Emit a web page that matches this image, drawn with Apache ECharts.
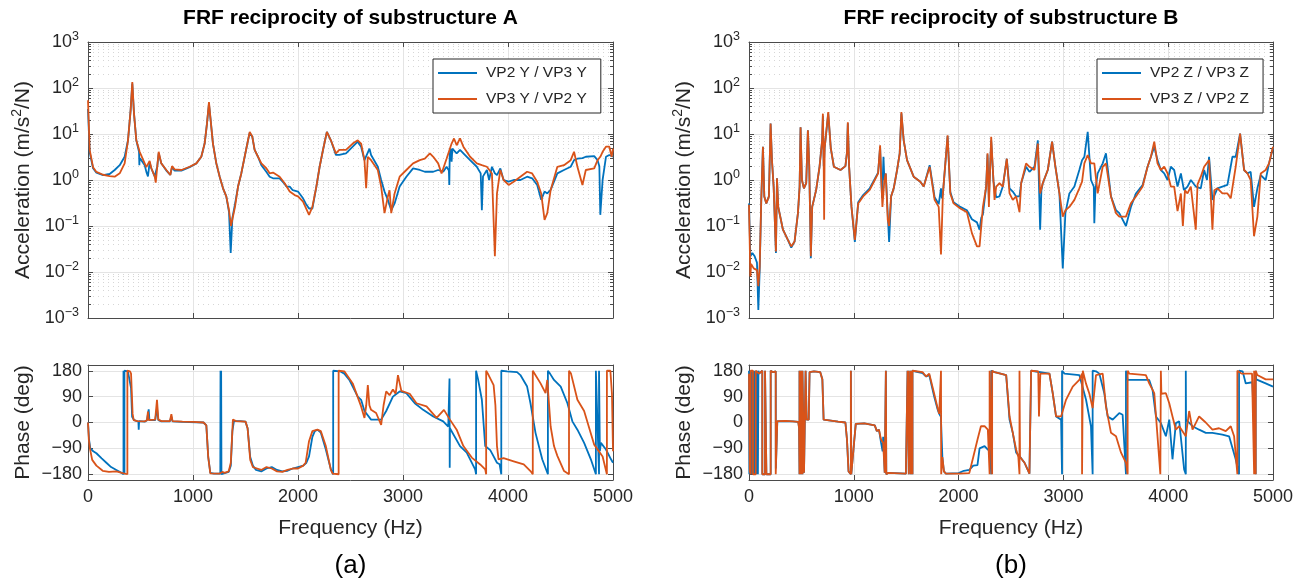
<!DOCTYPE html>
<html><head><meta charset="utf-8">
<script src="https://cdn.jsdelivr.net/npm/echarts/dist/echarts.min.js"></script>
<style>html,body{margin:0;padding:0;background:#fff}#c{width:1309px;height:588px}</style>
</head><body><div id="c"></div><script>
// ---------------- data ----------------
const freqTicks = [0, 1000, 2000, 3000, 4000, 5000];
const magMajorTicks = [1e-3, 1e-2, 1e-1, 1, 10, 100, 1000];
const magMinorTicks = [];
for (let k = -3; k <= 2; k++) for (let m = 2; m <= 9; m++) magMinorTicks.push(+(m * Math.pow(10, k)).toPrecision(3));
const phaseTicks = [-180, -90, 0, 90, 180];

const namesA = ['VP2 Y / VP3 Y', 'VP3 Y / VP2 Y'];
const namesB = ['VP2 Z / VP3 Z', 'VP3 Z / VP2 Z'];

// Substructure A magnitude [Hz, m/s^2/N]
const magA_VP2Y_VP3Y = [[0,35],[16,4.0],[48,1.8],[80,1.44],[143,1.28],[206,1.35],[254,1.65],[302,2.1],[349,3.2],[381,7.3],[406,33],[422,125],[438,28],[460,7.3],[486,4.1],[489,2.1],[492,3.0],[508,2.7],[540,2.1],[556,1.5],[571,1.2],[587,2.4],[603,1.8],[635,1.2],[650,1.1],[660,2.0],[673,3.8],[698,2.3],[746,1.6],[784,1.3],[800,1.9],[825,1.6],[889,1.6],[968,1.9],[1032,2.3],[1079,3.2],[1111,6.2],[1133,16.8],[1152,45],[1168,20],[1190,6.2],[1222,2.3],[1254,1.18],[1286,0.66],[1317,0.44],[1343,0.2],[1359,0.026],[1375,0.15],[1400,0.3],[1429,0.72],[1460,1.39],[1492,3.2],[1524,7.3],[1540,10.5],[1565,8.7],[1587,4.5],[1619,3.2],[1651,2.1],[1698,1.51],[1730,1.18],[1762,1.09],[1825,1.09],[1873,0.82],[1890,0.72],[1921,0.72],[1950,0.6],[1968,0.66],[2000,0.56],[2048,0.4],[2073,0.31],[2105,0.24],[2137,0.24],[2175,0.72],[2206,1.94],[2238,4.5],[2275,11.1],[2313,7.3],[2361,3.5],[2393,3.5],[2457,3.8],[2521,5.3],[2569,6.8],[2585,7.3],[2601,5.3],[2633,2.7],[2681,4.8],[2696,3.5],[2760,1.94],[2792,1.0],[2824,0.56],[2856,0.37],[2888,0.22],[2920,0.31],[2968,0.72],[3032,1.18],[3096,1.79],[3160,1.65],[3208,1.51],[3256,1.51],[3288,1.51],[3335,1.65],[3383,1.51],[3415,1.94],[3437,1.6],[3441,0.78],[3445,3.5],[3452,4.8],[3463,2.5],[3470,4.8],[3511,3.8],[3543,4.5],[3575,3.8],[3639,2.7],[3703,1.94],[3740,1.39],[3751,0.22],[3762,1.2],[3799,1.65],[3820,1.0],[3847,1.94],[3875,1.4],[3895,1.28],[3927,1.79],[3958,1.0],[4006,0.92],[4054,1.0],[4118,1.0],[4182,1.18],[4230,1.09],[4278,0.78],[4316,0.37],[4348,0.56],[4374,0.51],[4406,0.61],[4470,1.39],[4533,1.65],[4597,1.94],[4629,2.7],[4661,2.9],[4709,3.0],[4741,3.2],[4821,3.3],[4853,2.7],[4870,2.0],[4879,0.175],[4901,1.0],[4933,3.2],[4965,3.5],[5000,3.2]];
const magA_VP3Y_VP2Y = [[0,54],[16,4.5],[48,1.9],[80,1.5],[143,1.3],[206,1.22],[254,1.18],[302,1.4],[349,2.3],[381,7.3],[406,33],[422,134],[438,28],[460,7.3],[492,4.1],[508,3.8],[540,2.3],[556,1.9],[571,1.8],[587,2.6],[603,1.8],[635,1.2],[645,0.88],[660,2.0],[673,4.1],[698,2.3],[746,1.65],[784,1.28],[800,2.0],[825,1.7],[889,1.65],[968,1.94],[1032,2.3],[1079,3.2],[1111,6.2],[1133,16.8],[1152,49.6],[1168,20],[1190,6.2],[1222,2.3],[1254,1.18],[1286,0.66],[1317,0.44],[1343,0.22],[1362,0.1],[1381,0.1],[1400,0.26],[1429,0.72],[1460,1.39],[1492,3.2],[1524,7.3],[1540,11.1],[1565,8.7],[1587,4.5],[1619,3.2],[1651,2.3],[1698,1.8],[1730,1.4],[1762,1.45],[1825,1.18],[1873,0.85],[1921,0.56],[1968,0.47],[2000,0.44],[2048,0.34],[2105,0.175],[2137,0.26],[2175,0.72],[2206,1.94],[2238,4.5],[2275,11.1],[2313,7.3],[2361,3.8],[2393,4.5],[2457,4.5],[2521,6.2],[2569,7.3],[2585,8.0],[2601,6.2],[2633,2.7],[2649,0.66],[2665,3.2],[2696,2.7],[2760,1.65],[2792,0.72],[2824,0.19],[2856,0.44],[2872,0.6],[2888,0.19],[2920,0.51],[2968,1.18],[3032,1.65],[3096,2.3],[3160,2.7],[3208,2.9],[3256,3.8],[3288,3.2],[3335,2.3],[3367,1.39],[3383,1.5],[3415,2.9],[3463,6.2],[3486,8.0],[3511,5.7],[3543,8.0],[3575,5.3],[3639,3.2],[3703,2.3],[3751,2.1],[3799,1.94],[3847,1.39],[3875,0.022],[3895,0.51],[3927,1.65],[3958,1.0],[4006,0.78],[4054,0.92],[4118,1.18],[4182,1.51],[4230,1.39],[4278,0.92],[4316,0.51],[4348,0.136],[4374,0.19],[4406,0.6],[4470,1.94],[4533,2.1],[4597,2.7],[4629,4.1],[4661,1.94],[4709,0.78],[4741,1.65],[4821,1.79],[4853,2.7],[4879,3.2],[4901,4.1],[4933,5.3],[4965,5.3],[4987,3.2],[5000,4.8]];

// Substructure A phase [Hz, deg]
const phA_VP2Y_VP3Y = [[0,0],[10,-60],[22,-90],[50,-100],[80,-107],[130,-125],[175,-140],[220,-155],[270,-165],[310,-173],[338,-180],[338,180],[341,-180],[341,180],[344,-180],[344,180],[347,-180],[347,180],[380,178],[395,175],[410,120],[420,20],[440,8],[480,3],[483,-25],[487,5],[540,3],[562,8],[578,46],[585,8],[640,8],[657,50],[670,8],[700,4],[780,4],[794,20],[805,4],[900,2],[1100,0],[1127,-10],[1145,-120],[1165,-175],[1200,-178],[1260,-178],[1262,-180],[1262,180],[1265,-180],[1265,180],[1268,-180],[1268,180],[1271,-180],[1275,-176],[1340,-172],[1360,-150],[1375,-30],[1390,5],[1450,5],[1500,3],[1520,-20],[1545,-120],[1570,-150],[1600,-165],[1650,-170],[1700,-160],[1750,-155],[1800,-165],[1850,-170],[1900,-168],[1950,-160],[2000,-155],[2050,-150],[2080,-140],[2105,-118],[2137,-50],[2160,-30],[2185,-25],[2217,-35],[2265,-94],[2313,-163],[2335,-180],[2335,180],[2400,178],[2441,170],[2489,148],[2569,90],[2601,79],[2633,40],[2696,10],[2792,10],[2840,40],[2904,90],[2968,108],[3032,102],[3112,67],[3192,44],[3288,21],[3383,4],[3431,-14],[3441,-15],[3443,153],[3445,-157],[3447,-20],[3463,-25],[3543,-82],[3607,-105],[3687,-163],[3696,-180],[3696,180],[3715,150],[3751,79],[3783,-82],[3831,-96],[3863,-118],[3895,-140],[3920,-145],[3936,-180],[3936,180],[3990,178],[4086,175],[4118,165],[4182,125],[4214,67],[4262,-36],[4326,-128],[4380,-180],[4380,180],[4400,170],[4438,148],[4502,125],[4566,67],[4613,4],[4661,-25],[4725,-71],[4789,-128],[4837,-180],[4837,180],[4850,180],[4867,-180],[4867,180],[4875,-100],[4885,-71],[4933,-94],[4981,-128],[5000,-140]];
const phA_VP3Y_VP2Y = [[0,0],[8,-60],[18,-90],[40,-130],[80,-150],[140,-168],[200,-172],[270,-170],[330,-176],[375,-180],[375,180],[400,178],[410,170],[425,30],[435,8],[470,5],[540,4],[562,8],[571,38],[578,8],[640,10],[657,79],[670,10],[700,5],[780,5],[794,29],[805,5],[900,3],[1000,2],[1100,0],[1127,-10],[1145,-120],[1165,-177],[1250,-178],[1280,-172],[1300,-175],[1340,-170],[1360,-140],[1380,10],[1395,15],[1410,5],[1500,3],[1520,-20],[1545,-130],[1570,-155],[1610,-160],[1650,-165],[1700,-155],[1750,-160],[1800,-170],[1850,-172],[1900,-165],[1950,-160],[2000,-160],[2050,-150],[2073,-140],[2105,-65],[2137,-30],[2185,-25],[2217,-30],[2265,-82],[2313,-165],[2330,-178],[2387,-180],[2387,180],[2441,178],[2521,136],[2601,56],[2633,16],[2650,60],[2665,130],[2680,60],[2696,44],[2744,33],[2792,-8],[2815,60],[2840,108],[2872,95],[2904,115],[2930,100],[2952,165],[2984,110],[3064,100],[3128,67],[3224,56],[3320,16],[3390,44],[3447,10],[3511,-25],[3575,-82],[3655,-122],[3735,-146],[3783,-163],[3792,-180],[3792,180],[3815,165],[3863,130],[3880,60],[3895,-82],[3910,-128],[3958,-124],[4054,-135],[4150,-146],[4214,-169],[4236,-180],[4236,180],[4250,175],[4310,136],[4358,102],[4374,148],[4406,-14],[4438,-82],[4470,-116],[4534,-169],[4581,-180],[4581,180],[4600,170],[4661,79],[4725,40],[4821,-77],[4901,-118],[4942,-180],[4942,180],[4975,180],[4990,100],[5000,-100]];

// Substructure B magnitude
const magB_VP2Z_VP3Z = [[0,0.31],[13,0.022],[32,0.026],[54,0.022],[76,0.016],[89,0.0015],[102,0.011],[117,0.37],[133,5.3],[146,0.44],[165,0.31],[190,0.44],[206,16.8],[219,2.7],[235,0.72],[257,0.026],[267,1.09],[279,0.26],[324,0.083],[371,0.05],[403,0.034],[435,0.046],[467,0.19],[483,0.72],[492,14],[505,1.0],[524,0.66],[546,0.85],[562,12],[575,1.94],[590,0.02],[603,0.26],[641,0.61],[673,1.94],[698,7.3],[705,25],[713,2.0],[722,5],[756,28],[780,5],[810,1.94],[873,1.65],[920,2.0],[935,4.0],[943,17],[955,2.0],[978,0.26],[1010,0.045],[1042,0.33],[1089,0.47],[1152,0.66],[1200,1.05],[1232,1.45],[1251,5.2],[1260,1.39],[1270,0.4],[1283,3.2],[1292,1.0],[1305,1.39],[1337,0.045],[1356,0.44],[1381,0.66],[1413,1.65],[1438,3.8],[1454,28],[1476,7.3],[1508,2.7],[1571,1.18],[1635,0.92],[1667,0.72],[1724,2.1],[1771,0.42],[1810,0.3],[1832,0.66],[1840,0.4],[1850,0.5],[1895,9.0],[1921,0.55],[1952,0.33],[2016,0.26],[2079,0.22],[2127,0.14],[2175,0.12],[2200,0.083],[2216,0.15],[2232,0.18],[2263,0.72],[2276,3.6],[2289,0.4],[2311,7.3],[2333,0.92],[2359,0.42],[2390,0.44],[2422,0.72],[2460,2.9],[2486,0.66],[2517,0.56],[2549,0.44],[2581,0.44],[2597,0.85],[2644,1.94],[2676,1.51],[2724,1.94],[2756,7.3],[2778,0.083],[2790,0.6],[2803,0.85],[2851,1.65],[2892,6.8],[2924,1.94],[2962,0.51],[2994,0.012],[3019,0.19],[3057,0.51],[3105,0.72],[3152,1.65],[3178,2.7],[3200,3.2],[3232,11.1],[3263,1.0],[3290,0.72],[3295,0.115],[3305,0.6],[3327,1.39],[3375,2.3],[3406,3.8],[3454,0.44],[3502,0.22],[3533,0.19],[3597,0.1],[3644,0.26],[3692,0.51],[3756,0.78],[3803,1.94],[3835,3.2],[3867,5.3],[3898,2.7],[3930,1.65],[3962,1.39],[3994,1.0],[4025,1.94],[4057,1.65],[4089,0.72],[4121,1.39],[4150,0.6],[4184,0.72],[4216,1.0],[4263,0.72],[4311,0.66],[4343,1.65],[4370,1.0],[4390,3.2],[4422,0.37],[4470,0.66],[4517,0.72],[4565,0.78],[4613,3.2],[4644,3.2],[4686,10.2],[4724,1.65],[4756,1.39],[4787,1.51],[4819,0.26],[4851,0.66],[4883,1.28],[4930,1.0],[4962,2.3],[5000,5.0]];
const magB_VP3Z_VP2Z = [[0,0.29],[13,0.008],[20,0.015],[32,0.016],[45,0.012],[54,0.013],[76,0.011],[89,0.0049],[102,0.013],[117,0.37],[133,5.3],[146,0.44],[165,0.31],[190,0.44],[206,16.8],[219,2.7],[235,0.72],[257,0.028],[267,1.09],[279,0.26],[324,0.083],[371,0.05],[403,0.036],[435,0.046],[467,0.19],[483,0.72],[492,14],[505,1.0],[524,0.66],[546,0.85],[562,12],[575,1.94],[590,0.022],[603,0.26],[641,0.61],[673,1.94],[698,7.3],[705,27.7],[713,2.0],[717,0.136],[722,5],[756,30],[780,5],[810,1.94],[873,1.65],[920,2.0],[935,4.0],[943,18],[955,2.0],[978,0.26],[1010,0.05],[1042,0.31],[1089,0.44],[1152,0.61],[1200,1.0],[1232,1.39],[1251,5.7],[1260,1.39],[1273,0.26],[1292,1.0],[1305,1.39],[1324,0.136],[1337,0.1],[1356,0.44],[1381,0.66],[1413,1.65],[1438,3.8],[1454,30],[1476,7.3],[1508,2.7],[1571,1.18],[1635,0.92],[1667,0.72],[1724,1.94],[1771,0.37],[1810,0.26],[1832,0.024],[1850,0.5],[1895,9.4],[1921,0.51],[1952,0.31],[2016,0.24],[2079,0.2],[2127,0.07],[2175,0.036],[2200,0.036],[2232,0.26],[2263,0.72],[2276,3.8],[2289,0.26],[2311,8.7],[2333,0.92],[2343,0.37],[2359,0.72],[2390,0.85],[2422,0.72],[2460,2.9],[2486,0.51],[2517,0.37],[2549,0.44],[2581,0.2],[2597,0.85],[2644,2.3],[2676,1.94],[2724,1.65],[2756,6.2],[2778,0.51],[2803,0.85],[2851,1.65],[2892,6.8],[2924,1.94],[2962,0.51],[2994,0.16],[3019,0.22],[3057,0.26],[3105,0.37],[3152,0.66],[3178,0.92],[3200,2.3],[3232,3.5],[3263,2.3],[3295,2.3],[3327,0.51],[3375,1.94],[3406,2.3],[3454,0.44],[3502,0.19],[3533,0.16],[3597,0.16],[3644,0.31],[3692,0.44],[3756,0.72],[3803,1.94],[3835,3.2],[3867,6.8],[3898,2.3],[3930,1.65],[3962,1.94],[3994,1.39],[4025,0.72],[4057,0.72],[4089,0.21],[4121,0.51],[4140,0.1],[4160,0.6],[4184,0.51],[4216,0.72],[4263,0.083],[4280,0.8],[4311,1.18],[4343,1.94],[4390,2.7],[4422,0.083],[4440,0.6],[4470,0.66],[4517,0.51],[4565,0.51],[4597,0.4],[4613,0.37],[4644,1.94],[4686,10.2],[4724,1.65],[4756,1.39],[4787,1.0],[4819,0.06],[4851,0.16],[4883,1.39],[4930,1.65],[4962,2.3],[5000,5.3]];

// Substructure B phase
const phB_VP2Z_VP3Z = [[0,180],[3,-180],[6,180],[10,-180],[14,180],[18,-180],[22,180],[26,-180],[30,180],[34,-180],[38,180],[42,-180],[46,180],[50,-180],[54,180],[58,-180],[62,180],[66,-180],[70,180],[75,-180],[80,180],[85,-180],[90,180],[96,170],[110,175],[127,180],[127,-180],[140,-175],[153,-180],[153,180],[160,175],[166,180],[166,-180],[185,-175],[207,-180],[207,180],[230,175],[255,178],[256,-160],[262,-90],[270,4],[350,5],[420,4],[470,2],[478,-20],[482,-180],[482,180],[490,-180],[490,180],[500,-180],[500,180],[510,-180],[510,180],[525,-175],[540,-180],[540,180],[550,10],[570,10],[578,175],[620,178],[680,175],[700,150],[712,10],[730,5],[850,3],[920,0],[935,-60],[950,-170],[972,-180],[972,180],[976,-180],[990,-175],[1005,-60],[1019,-5],[1100,-3],[1200,-10],[1220,-30],[1240,-25],[1260,-70],[1275,-100],[1280,-50],[1295,-175],[1306,-180],[1306,180],[1310,-180],[1330,-175],[1497,-178],[1513,-180],[1513,180],[1525,-180],[1525,180],[1545,-180],[1545,180],[1560,-180],[1560,180],[1576,178],[1656,172],[1690,160],[1720,165],[1767,90],[1800,45],[1815,30],[1831,20],[1845,-120],[1860,-170],[1879,-178],[2000,-176],[2050,-168],[2102,-165],[2140,-150],[2180,-148],[2200,-90],[2248,-82],[2279,-94],[2300,-100],[2311,-180],[2311,180],[2343,175],[2400,170],[2454,165],[2486,10],[2517,-36],[2549,-105],[2581,-117],[2629,-140],[2676,-178],[2692,-180],[2692,180],[2708,175],[2867,170],[2898,102],[2930,21],[2978,10],[2987,-180],[2987,180],[3010,170],[3152,165],[3216,79],[3263,-13],[3279,-180],[3279,180],[3311,178],[3343,170],[3390,102],[3422,21],[3470,10],[3533,33],[3565,27],[3597,-180],[3597,180],[3613,148],[3819,148],[3851,113],[3883,21],[3930,-2],[3978,-48],[4010,10],[4041,-128],[4073,-2],[4105,4],[4152,-163],[4168,-180],[4168,180],[4170,10],[4184,10],[4232,-13],[4295,-25],[4359,-36],[4422,-36],[4517,-42],[4581,-48],[4644,-128],[4676,-180],[4676,180],[4710,178],[4740,136],[4803,140],[4835,-180],[4835,180],[4840,150],[4930,136],[5000,125]];
const phB_VP3Z_VP2Z = [[0,170],[8,-170],[16,-180],[16,180],[30,175],[38,180],[38,-180],[50,-175],[64,-180],[64,180],[80,175],[96,170],[110,175],[127,180],[127,-180],[140,-175],[153,-180],[153,180],[160,175],[166,180],[166,-180],[185,-175],[207,-180],[207,180],[230,175],[255,178],[255,-180],[262,-90],[270,5],[350,6],[420,4],[470,2],[478,-20],[482,-180],[482,180],[490,-180],[490,180],[500,-180],[500,180],[510,-180],[510,180],[525,-175],[540,-180],[540,180],[550,10],[570,10],[578,175],[620,178],[680,175],[700,150],[712,10],[730,5],[850,3],[920,0],[935,-60],[950,-170],[972,-180],[972,180],[976,-180],[990,-175],[1005,-60],[1019,-5],[1100,-3],[1200,-10],[1220,-30],[1240,-25],[1260,-60],[1280,-70],[1295,-175],[1306,-180],[1306,180],[1310,-180],[1330,-175],[1497,-178],[1513,-180],[1513,180],[1525,-180],[1525,180],[1545,-180],[1545,180],[1560,-180],[1560,180],[1576,178],[1656,175],[1690,160],[1720,170],[1767,100],[1800,50],[1815,30],[1831,25],[1832,180],[1834,-180],[1845,-120],[1860,-170],[1879,-178],[2000,-178],[2102,-176],[2140,-120],[2180,-60],[2213,-13],[2248,-13],[2279,-25],[2295,-30],[2296,-180],[2296,180],[2320,-180],[2320,180],[2343,175],[2400,170],[2454,165],[2486,21],[2517,-36],[2549,-94],[2570,-120],[2581,-180],[2581,180],[2586,-120],[2629,-140],[2676,-178],[2692,-180],[2692,180],[2708,175],[2760,178],[2767,21],[2780,170],[2867,170],[2898,102],[2930,21],[2978,21],[3025,79],[3089,125],[3152,148],[3178,170],[3178,-180],[3185,180],[3215,136],[3248,100],[3279,50],[3311,165],[3375,170],[3406,56],[3454,-36],[3502,-48],[3550,-105],[3597,-140],[3613,-180],[3613,180],[3629,170],[3787,165],[3819,136],[3867,102],[3925,-180],[3930,180],[3935,100],[3978,102],[4010,67],[4041,21],[4073,-25],[4105,-13],[4168,-48],[4200,40],[4232,-25],[4295,21],[4358,0],[4422,-25],[4485,-20],[4549,-30],[4597,-13],[4629,-48],[4660,-180],[4660,180],[4700,170],[4800,170],[4820,-180],[4820,180],[4835,-180],[4835,180],[4850,165],[4930,150],[5000,150]];

// ---------------- styling ----------------
const FONT = '"Liberation Sans", Arial, Helvetica, sans-serif';
const TXT = '#262626';
const AX = '#4a4a4a';
const GRIDC = '#e4e4e4';
const MINC = '#d6d6d6';
const BLUE = '#0072BD', ORANGE = '#D95319';
const LW = 1.8;

const G = [
  {left: 88, top: 42, width: 525, height: 276},
  {left: 88, top: 365, width: 525, height: 115},
  {left: 749, top: 42, width: 524, height: 276},
  {left: 749, top: 365, width: 524, height: 115}
];

function supLabel(v) {
  const e = Math.round(Math.log10(v));
  const s = e < 0 ? '\u2212' + (-e) : '' + e;
  return '10{e|' + s + '}';
}
function phaseLabel(v) { return v < 0 ? '\u2212' + (-v) : '' + v; }
function freqLabel(v) { return String(Math.round(v)); }

function xAxes(gi, withLabels) {
  const base = {
    type: 'value', gridIndex: gi, min: freqTicks[0], max: freqTicks[freqTicks.length - 1], interval: 1000,
    axisLine: {show: true, onZero: false, lineStyle: {color: AX, width: 1}},
    axisTick: {show: true, inside: true, length: 5, lineStyle: {color: AX}}
  };
  return [
    Object.assign({}, base, {
      position: 'bottom',
      axisLabel: {show: withLabels, margin: 8, formatter: freqLabel, fontFamily: FONT, fontSize: 18, color: TXT},
      splitLine: {show: true, lineStyle: {color: GRIDC, width: 1}},
      name: withLabels ? 'Frequency (Hz)' : '', nameLocation: 'middle', nameGap: 38,
      nameTextStyle: {fontFamily: FONT, fontSize: 21, color: TXT}
    }),
    Object.assign({}, base, {position: 'top', axisLabel: {show: false}, splitLine: {show: false}})
  ];
}

function magYAxes(gi) {
  const base = {type: 'log', logBase: 10, gridIndex: gi, min: 1e-3, max: 1e3};
  return [
    Object.assign({}, base, {
      position: 'left',
      name: 'Acceleration (m/s{s|2}/N)', nameLocation: 'middle', nameGap: 52,
      nameTextStyle: {fontFamily: FONT, fontSize: 21, color: TXT, lineHeight: 26,
        rich: {s: {fontFamily: FONT, fontSize: 14, color: TXT, verticalAlign: 'top', lineHeight: 14}}},
      axisLine: {show: true, onZero: false, lineStyle: {color: AX, width: 1}},
      axisTick: {show: true, inside: true, length: 5, customValues: magMajorTicks, lineStyle: {color: AX}},
      axisLabel: {show: true, customValues: magMajorTicks, margin: 9, formatter: supLabel,
        fontFamily: FONT, fontSize: 18, color: TXT, lineHeight: 24,
        rich: {e: {fontFamily: FONT, fontSize: 12.5, color: TXT, verticalAlign: 'top', lineHeight: 12}}},
      splitLine: {show: true, lineStyle: {color: GRIDC, width: 1}},
      minorTick: {show: false}, minorSplitLine: {show: false}
    }),
    Object.assign({}, base, {
      position: 'right',
      axisLine: {show: true, onZero: false, lineStyle: {color: AX, width: 1}},
      axisTick: {show: true, inside: true, length: 3, customValues: magMinorTicks, lineStyle: {color: AX}},
      axisLabel: {show: false},
      splitLine: {show: true, lineStyle: {color: MINC, width: 1, type: [1, 4]}}
    }),
    Object.assign({}, base, {
      position: 'left',
      axisLine: {show: false, onZero: false},
      axisTick: {show: true, inside: true, length: 3, customValues: magMinorTicks, lineStyle: {color: AX}},
      axisLabel: {show: false}, splitLine: {show: false}
    }),
    Object.assign({}, base, {
      position: 'right',
      axisLine: {show: false, onZero: false},
      axisTick: {show: true, inside: true, length: 5, customValues: magMajorTicks, lineStyle: {color: AX}},
      axisLabel: {show: false}, splitLine: {show: false}
    })
  ];
}

function phaseYAxes(gi) {
  const base = {type: 'value', gridIndex: gi, min: -200, max: 200};
  return [
    Object.assign({}, base, {
      position: 'left',
      name: 'Phase (deg)', nameLocation: 'middle', nameGap: 54,
      nameTextStyle: {fontFamily: FONT, fontSize: 21, color: TXT},
      axisLine: {show: true, onZero: false, lineStyle: {color: AX, width: 1}},
      axisTick: {show: true, inside: true, length: 5, customValues: phaseTicks, lineStyle: {color: AX}},
      axisLabel: {show: true, customValues: phaseTicks, margin: 6, formatter: phaseLabel, fontFamily: FONT, fontSize: 18, color: TXT},
      splitLine: {show: true, lineStyle: {color: GRIDC, width: 1}}
    }),
    Object.assign({}, base, {
      position: 'right',
      axisLine: {show: true, onZero: false, lineStyle: {color: AX, width: 1}},
      axisTick: {show: true, inside: true, length: 5, customValues: phaseTicks, lineStyle: {color: AX}},
      axisLabel: {show: false}, splitLine: {show: false}
    })
  ];
}

const xAxis = [].concat(xAxes(0, false), xAxes(1, true), xAxes(2, false), xAxes(3, true));
const yAxis = [].concat(magYAxes(0), phaseYAxes(1), magYAxes(2), phaseYAxes(3));

function line(name, data, color, xi, yi) {
  return {type: 'line', name: name, data: data, xAxisIndex: xi, yAxisIndex: yi,
    showSymbol: false, symbol: 'none', color: color,
    lineStyle: {color: color, width: LW}, animation: false, clip: true, z: 3};
}

const series = [
  line(namesA[0], magA_VP2Y_VP3Y, BLUE, 0, 0),
  line(namesA[1], magA_VP3Y_VP2Y, ORANGE, 0, 0),
  line(namesA[0], phA_VP2Y_VP3Y, BLUE, 2, 4),
  line(namesA[1], phA_VP3Y_VP2Y, ORANGE, 2, 4),
  line(namesB[0], magB_VP2Z_VP3Z, BLUE, 4, 6),
  line(namesB[1], magB_VP3Z_VP2Z, ORANGE, 4, 6),
  line(namesB[0], phB_VP2Z_VP3Z, BLUE, 6, 10),
  line(namesB[1], phB_VP3Z_VP2Z, ORANGE, 6, 10)
];

function legend(names, left) {
  return {
    data: names.map(n => ({name: n, icon: 'path://M0,0 L39,0 L39,2 L0,2 Z'})),
    left: left, top: 59, orient: 'vertical',
    itemWidth: 39, itemHeight: 14, itemGap: 10, padding: [6, 14, 6, 5],
    borderColor: '#262626', borderWidth: 1, backgroundColor: '#fff',
    textStyle: {fontFamily: FONT, fontSize: 15.5, color: TXT, padding: [0, 0, 0, 4]},
    selectedMode: false
  };
}

function txt(text, x, y, size, weight) {
  return {type: 'text', x: x, y: y, silent: true,
    style: {text: text, fontFamily: 'Liberation Sans, Arial, sans-serif', fontSize: size, fontWeight: weight || 'normal',
      fill: '#000', align: 'center', verticalAlign: 'middle'}};
}

const chart = echarts.init(document.getElementById('c'), null, {renderer: 'canvas'});
chart.setOption({
  animation: false,
  backgroundColor: '#fff',
  grid: G.map(g => Object.assign({containLabel: false, outerBoundsMode: 'none'}, g)),
  xAxis: xAxis,
  yAxis: yAxis,
  legend: [legend(namesA, 433), legend(namesB, 1097)],
  series: series,
  graphic: [
    txt('FRF reciprocity of substructure A', 350.5, 18, 21, 'bold'),
    txt('FRF reciprocity of substructure B', 1011, 18, 21, 'bold'),
    txt('(a)', 350.5, 566, 26),
    txt('(b)', 1011, 566, 26)
  ]
});
</script></body></html>
